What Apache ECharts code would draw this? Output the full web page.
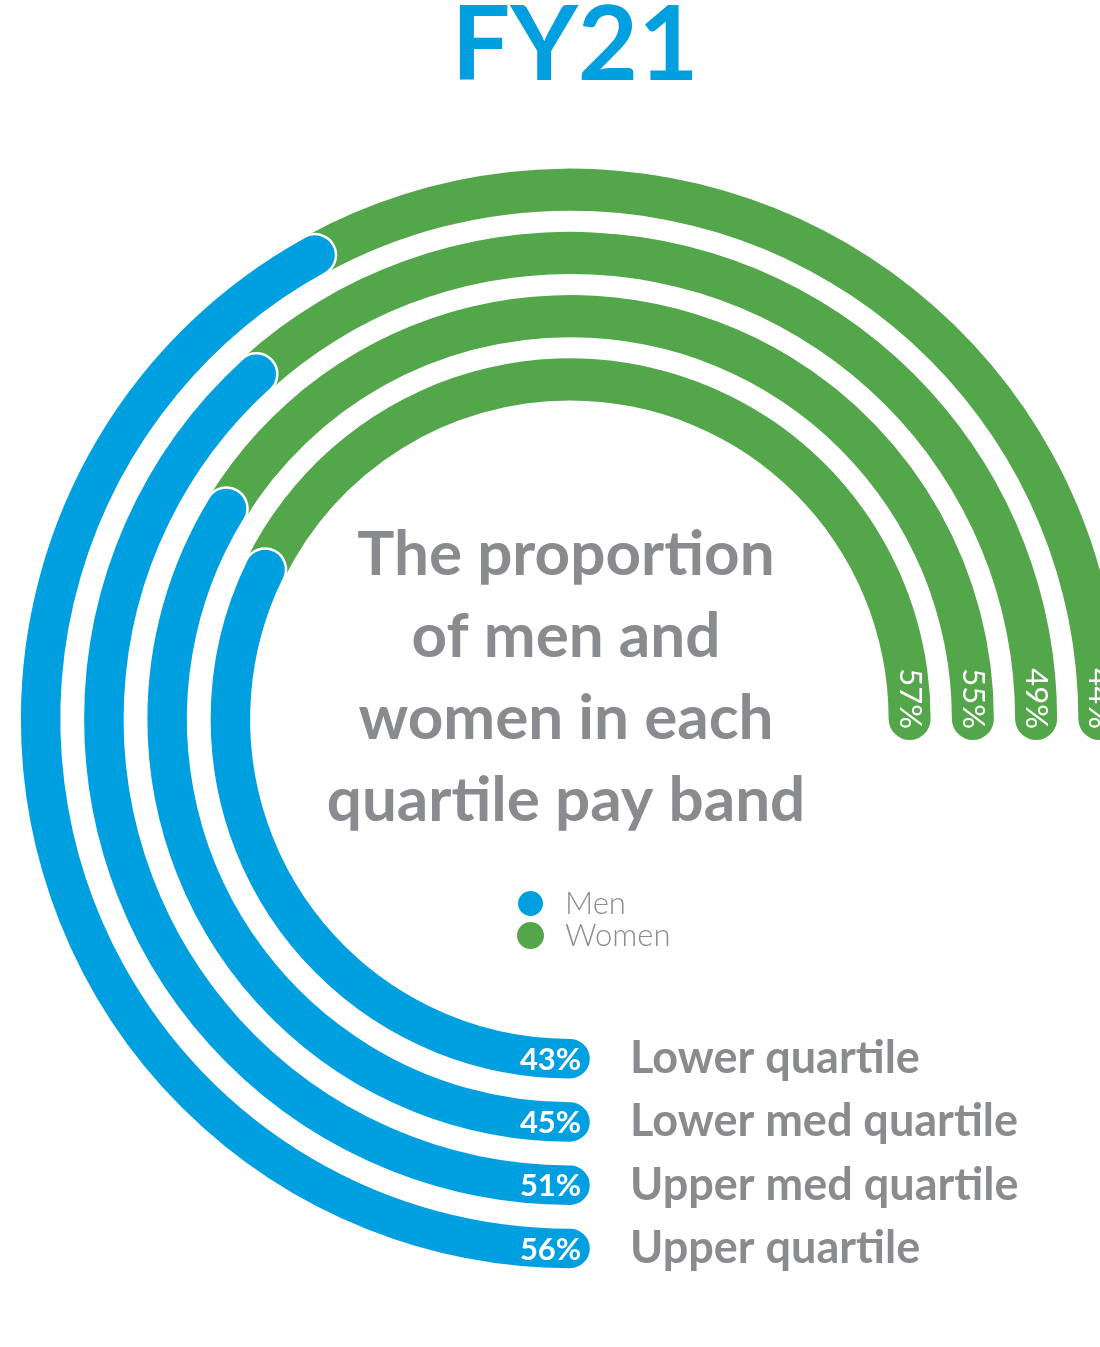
<!DOCTYPE html>
<html lang="en">
<head>
    <meta charset="UTF-8">
    <title>FY21 pay quartiles</title>
    <script src="https://cdn.jsdelivr.net/npm/echarts@6/dist/echarts.min.js"></script>
    <style>
        html, body { margin: 0; padding: 0; background: #fff; }
    </style>
</head>
<body>

<div id="main" style="width: 1100px;height:1347px;"></div>

</body>
<script>

    // quartiles, inner ring first
    var quartiles = ['Lower quartile', 'Lower med quartile', 'Upper med quartile', 'Upper quartile'];
    var men = [43, 45, 51, 56];
    var women = [57, 55, 49, 44];

    var blue = '#009fe0';
    var green = '#54a64b';
    var grey = '#898b8e';
    var barW = 42;

    var mychart = echarts.init(document.getElementById('main'));

    var option = {
        backgroundColor: '#fff',
        textStyle: {fontFamily: 'Lato'},
        title: [
            {
                text: 'FY21',
                left: 570,
                top: -11,
                textAlign: 'center',
                textStyle: {color: blue, fontSize: 104, fontWeight: 'bold', fontFamily: 'Lato'}
            },
            {
                text: 'The proportion\nof men and\nwomen in each\nquartile pay band',
                left: 561,
                top: 509,
                textAlign: 'center',
                textStyle: {color: grey, fontSize: 62, fontWeight: 'bold', lineHeight: 82, fontFamily: 'Lato'}
            }
        ],
        legend: {
            orient: 'vertical',
            left: 511,
            top: 883,
            icon: 'circle',
            itemWidth: 27,
            itemHeight: 27,
            itemGap: 1,
            selectedMode: false,
            data: ['Men', 'Women'],
            textStyle: {color: '#8c8c8c', fontSize: 31, fontWeight: 300, padding: [0, 0, 0, 16]}
        },
        polar: {
            center: [570, 719],
            radius: [308, 561]
        },
        angleAxis: {
            type: 'value',
            min: 0,
            max: 100,
            startAngle: 270,
            endAngle: 0,
            clockwise: true,
            show: false
        },
        radiusAxis: {
            type: 'category',
            data: quartiles,
            z: 10,
            axisLine: {show: false},
            axisTick: {show: false},
            splitLine: {show: false},
            axisLabel: {
                interval: 0,
                margin: 60,
                color: grey,
                fontSize: 45,
                fontWeight: 'bold',
                fontFamily: 'Lato'
            }
        },
        series: [
            {
                name: 'Men',
                type: 'bar',
                coordinateSystem: 'polar',
                stack: 'total',
                data: men,
                barWidth: barW,
                roundCap: true,
                z: 3,
                itemStyle: {color: blue, borderColor: '#fff', borderWidth: 2.5},
                label: {
                    show: true,
                    formatter: '{c}%',
                    color: '#fff',
                    fontSize: 31,
                    fontWeight: 'bold',
                    fontFamily: 'Lato'
                },
                // put the value at the start cap (bottom of the ring)
                labelLayout: function (p) {
                    return {
                        x: p.rect.x + p.rect.width - 11,
                        y: p.rect.y + p.rect.height - barW / 2,
                        align: 'right',
                        verticalAlign: 'middle'
                    };
                }
            },
            {
                name: 'Women',
                type: 'bar',
                coordinateSystem: 'polar',
                stack: 'total',
                data: women,
                barWidth: barW,
                roundCap: true,
                z: 2,
                itemStyle: {color: green},
                label: {
                    show: true,
                    formatter: '{c}%',
                    color: '#fff',
                    fontSize: 31,
                    fontFamily: 'Lato'
                },
                // value reads downwards at the end cap (3 o'clock)
                labelLayout: function (p) {
                    return {
                        x: p.rect.x + p.rect.width - barW / 2,
                        y: p.rect.y + p.rect.height - 11,
                        rotate: -90,
                        align: 'right',
                        verticalAlign: 'middle'
                    };
                }
            }
        ]
    };

    mychart.setOption(option);

</script>
</html>
